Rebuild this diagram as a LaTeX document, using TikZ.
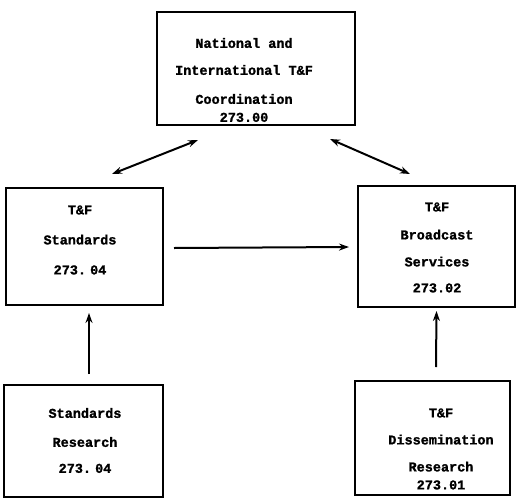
\documentclass[tikz,border=0pt]{standalone}
\usepackage{fontspec}
\newfontfamily\twfont[FakeBold=1.3]{Liberation Mono}
\usetikzlibrary{arrows.meta,calc}
\newcommand{\nsp}{\kern-4pt\ }
\begin{document}
\begin{tikzpicture}[x=1pt,y=-1pt,
  box/.style={draw=black,line width=2pt,rectangle,inner sep=0pt},
  txt/.style={align=center,inner sep=0pt,font=\twfont\bfseries\fontsize{13.5}{13}\selectfont},
  conn/.style={line width=2pt,-{Stealth[length=10pt,width=7pt]}},
  dconn/.style={line width=2pt,{Stealth[length=10pt,width=7pt]}-{Stealth[length=10pt,width=7pt]}}]
\useasboundingbox (0,0) rectangle (517,501);
% boxes
\node[box,minimum width=198pt,minimum height=113pt] (T) at (256,68.5) {};
\node[box,minimum width=157pt,minimum height=117pt] (L) at (84.5,246.5) {};
\node[box,minimum width=157pt,minimum height=121pt] (R) at (436.5,246.5) {};
\node[box,minimum width=159pt,minimum height=112pt] (BL) at (83.5,441) {};
\node[box,minimum width=155pt,minimum height=114pt] (BR) at (432.5,438) {};
% texts
\node[txt] (Tt) at (244,80) {National and\\[14pt]International T\&F\\[16pt]Coordination\\[5pt]273.00};
\node[txt] (Lt) at (80,240) {T\&F\\[17pt]Standards\\[17pt]273.\nsp04};
\node[txt] (Rt) at (437,247.5) {T\&F\\[15pt]Broadcast\\[14pt]Services\\[13pt]273.02};
\node[txt] (BLt) at (85,440.5) {Standards\\[16pt]Research\\[13pt]273.\nsp04};
\node[txt] (BRt) at (441,449) {T\&F\\[14pt]Dissemination\\[14pt]Research\\[5pt]273.01};
% connectors
\draw[dconn] ($(L.north)+(27.5,-13)$) -- ($(T.south)+(-58,14)$);
\draw[dconn] ($(T.south)+(74,13)$) -- ($(R.north)+(-26.5,-11)$);
\draw[conn] ($(L.east)+(10,1.5)$) -- ($(R.west)+(-8,0.5)$);
\draw[conn] ($(BL.north)+(5.5,-10)$) -- ($(L.south)+(4.5,7)$);
\draw[conn] ($(BR.north)+(3.5,-13)$) -- ($(R.south)+(0,3)$);
\end{tikzpicture}
\end{document}
